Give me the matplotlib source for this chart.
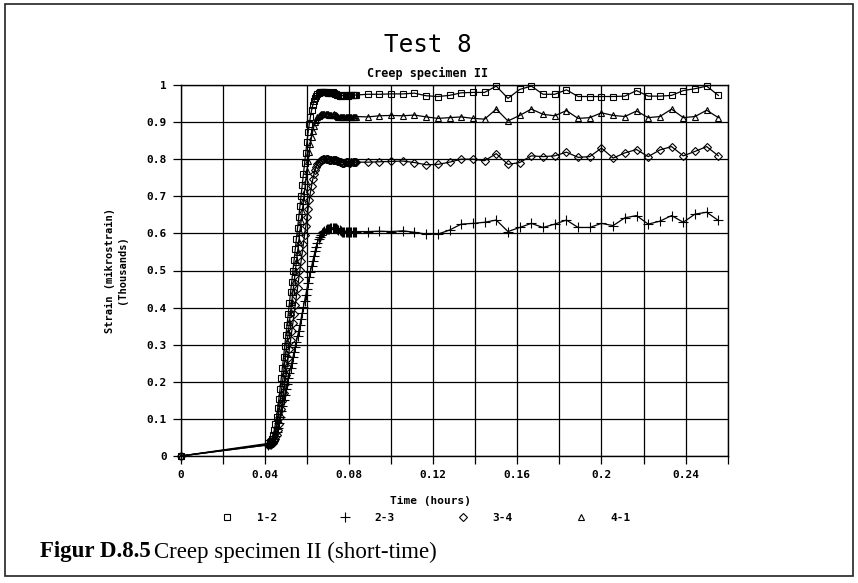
import numpy as np
import matplotlib.pyplot as plt
from matplotlib.lines import Line2D
from matplotlib.patches import Rectangle

plt.rcParams['font.family'] = 'DejaVu Sans Mono'
plt.rcParams['font.weight'] = 'bold'

# sample times in seconds (plotted in hours)
t_start = [0]
t_dense = [150, 152, 154, 156, 158, 160, 162, 164, 166, 168,
           170, 172, 174, 176, 178, 180, 182, 184, 186, 188,
           190, 192, 194, 196, 198, 200, 202, 204, 206, 208,
           210, 212, 214, 216, 218, 220, 222, 224, 226, 228,
           230, 232, 234, 236, 238, 240, 242, 244, 246, 248,
           250, 252, 254, 256, 258, 260, 262, 264, 266, 268,
           270, 272, 274, 276, 278, 280, 282, 284, 286, 288,
           290, 292, 294, 296, 298, 300]
t_sparse = [320, 340, 360, 380, 400, 420, 440, 460, 480, 500,
            520, 540, 560, 580, 600, 620, 640, 660, 680, 700,
            720, 740, 760, 780, 800, 820, 840, 860, 880, 900, 920]

# strain (thousands of mikrostrain)
s12_dense = [0.034, 0.037, 0.041, 0.047, 0.056, 0.069, 0.086, 0.106, 0.129, 0.154,
             0.181, 0.209, 0.238, 0.267, 0.296, 0.325, 0.354, 0.383, 0.412, 0.441,
             0.470, 0.499, 0.528, 0.557, 0.586, 0.615, 0.644, 0.673, 0.702, 0.731,
             0.760, 0.789, 0.818, 0.846, 0.872, 0.895, 0.915, 0.932, 0.946, 0.957,
             0.965, 0.971, 0.975, 0.978, 0.980, 0.981, 0.982, 0.982, 0.982, 0.981,
             0.980, 0.979, 0.978, 0.978, 0.979, 0.980, 0.979, 0.977, 0.975, 0.973,
             0.972, 0.971, 0.971, 0.971, 0.972, 0.972, 0.972, 0.971, 0.971, 0.972,
             0.972, 0.972, 0.972, 0.972, 0.973, 0.973]
s12_sparse = [0.975, 0.975, 0.976, 0.976, 0.978, 0.971, 0.969, 0.972, 0.979, 0.980,
              0.980, 0.997, 0.964, 0.988, 0.997, 0.975, 0.975, 0.987, 0.969, 0.969,
              0.969, 0.969, 0.970, 0.985, 0.970, 0.970, 0.972, 0.985, 0.990, 0.997, 0.972]

s23_dense = [0.030, 0.031, 0.033, 0.036, 0.040, 0.046, 0.054, 0.064, 0.076, 0.090,
             0.105, 0.120, 0.135, 0.150, 0.165, 0.180, 0.195, 0.210, 0.224, 0.238,
             0.252, 0.266, 0.280, 0.294, 0.308, 0.323, 0.338, 0.354, 0.370, 0.386,
             0.402, 0.418, 0.434, 0.450, 0.466, 0.482, 0.497, 0.511, 0.525, 0.539,
             0.552, 0.564, 0.575, 0.584, 0.591, 0.597, 0.601, 0.604, 0.607, 0.609,
             0.611, 0.612, 0.613, 0.614, 0.614, 0.615, 0.615, 0.615, 0.614, 0.612,
             0.610, 0.608, 0.606, 0.605, 0.604, 0.604, 0.605, 0.605, 0.605, 0.604,
             0.604, 0.605, 0.605, 0.605, 0.605, 0.605]
s23_sparse = [0.605, 0.606, 0.605, 0.607, 0.603, 0.598, 0.598, 0.609, 0.625, 0.627,
              0.630, 0.636, 0.605, 0.616, 0.627, 0.616, 0.625, 0.636, 0.616, 0.616,
              0.627, 0.621, 0.642, 0.648, 0.625, 0.633, 0.648, 0.630, 0.652, 0.657, 0.635]

s34_dense = [0.030, 0.031, 0.032, 0.034, 0.036, 0.040, 0.046, 0.056, 0.070, 0.086,
             0.105, 0.126, 0.148, 0.170, 0.194, 0.218, 0.241, 0.265, 0.289, 0.312,
             0.336, 0.359, 0.383, 0.407, 0.430, 0.454, 0.478, 0.501, 0.525, 0.548,
             0.572, 0.596, 0.619, 0.643, 0.667, 0.689, 0.711, 0.729, 0.746, 0.760,
             0.771, 0.780, 0.786, 0.791, 0.795, 0.797, 0.799, 0.800, 0.800, 0.800,
             0.800, 0.800, 0.799, 0.798, 0.797, 0.797, 0.798, 0.799, 0.798, 0.796,
             0.795, 0.793, 0.792, 0.791, 0.791, 0.791, 0.792, 0.792, 0.792, 0.791,
             0.791, 0.792, 0.792, 0.792, 0.792, 0.792]
s34_sparse = [0.792, 0.793, 0.794, 0.795, 0.791, 0.785, 0.786, 0.792, 0.800, 0.800,
              0.796, 0.815, 0.786, 0.791, 0.809, 0.807, 0.809, 0.819, 0.805, 0.807,
              0.830, 0.803, 0.817, 0.826, 0.807, 0.825, 0.834, 0.809, 0.821, 0.834, 0.809]

s41_dense = [0.032, 0.033, 0.035, 0.039, 0.044, 0.053, 0.065, 0.081, 0.100, 0.121,
             0.145, 0.170, 0.196, 0.224, 0.251, 0.278, 0.306, 0.333, 0.360, 0.387,
             0.415, 0.442, 0.469, 0.496, 0.524, 0.551, 0.578, 0.605, 0.633, 0.660,
             0.687, 0.714, 0.742, 0.769, 0.795, 0.820, 0.841, 0.860, 0.876, 0.889,
             0.900, 0.907, 0.913, 0.917, 0.919, 0.921, 0.922, 0.923, 0.923, 0.923,
             0.922, 0.921, 0.920, 0.919, 0.919, 0.920, 0.921, 0.920, 0.918, 0.917,
             0.915, 0.914, 0.913, 0.913, 0.913, 0.914, 0.914, 0.914, 0.913, 0.913,
             0.914, 0.914, 0.914, 0.914, 0.914, 0.915]
s41_sparse = [0.914, 0.917, 0.918, 0.917, 0.919, 0.914, 0.910, 0.912, 0.914, 0.910,
              0.908, 0.935, 0.903, 0.918, 0.935, 0.921, 0.917, 0.931, 0.910, 0.912,
              0.925, 0.918, 0.915, 0.930, 0.912, 0.915, 0.935, 0.912, 0.915, 0.932, 0.912]

labels = ['1-2', '2-3', '3-4', '4-1']
markers = ['s', '+', 'D', '^']
msizes = [4.5, 6.5, 3.6, 5]
x_tick_labels = ['0', '', '0.04', '', '0.08', '', '0.12', '', '0.16', '', '0.2', '', '0.24', '']
y_tick_labels = ['0', '0.1', '0.2', '0.3', '0.4', '0.5', '0.6', '0.7', '0.8', '0.9', '1']

t_all = t_start + t_dense + t_sparse
hours = [s / 3600 for s in t_all]
series = [
    [0] + s12_dense + s12_sparse,
    [0] + s23_dense + s23_sparse,
    [0] + s34_dense + s34_sparse,
    [0] + s41_dense + s41_sparse,
]

fig = plt.figure(figsize=(8.58, 5.83), dpi=100)
ax = fig.add_axes([180.7 / 858, 1 - 456 / 583, 547 / 858, 371 / 583])

for y, m, ms in zip(series, markers, msizes):
    ax.plot(hours, y, color='black', lw=0.9, marker=m, ms=ms,
            mfc='none', mec='black', mew=0.8, clip_on=False, zorder=3)

ax.set_xlim(0, 0.26)
ax.set_ylim(0, 1)
ax.set_xticks(np.arange(0, 0.2601, 0.02))
ax.set_xticklabels(x_tick_labels)
ax.set_yticks(np.arange(0, 1.001, 0.1))
ax.set_yticklabels(y_tick_labels)
ax.grid(True, color='black', lw=0.9)
ax.set_axisbelow(True)
for sp in ax.spines.values():
    sp.set_linewidth(1.0)
ax.tick_params(direction='out', length=6, width=0.9, color='black',
               pad=4, labelsize=8)

fig.text(428 / 858, 1 - 45 / 583, 'Test 8', ha='center', va='center',
         fontsize=17.5, fontweight='normal')
fig.text(428 / 858, 1 - 73 / 583, 'Creep specimen II', ha='center', va='center',
         fontsize=8.5)
fig.text(116 / 858, 1 - 270 / 583, 'Strain (mikrostrain)\n(Thousands)',
         rotation=90, ha='center', va='center', fontsize=7.5, multialignment='center')
fig.text(430 / 858, 1 - 501 / 583, 'Time (hours)', ha='center', va='center', fontsize=8)

handles = [Line2D([], [], ls='none', marker=m, ms=ms, mfc='none', mec='black', mew=0.8)
           for m, ms in zip(markers, msizes)]
fig.legend(handles, labels, ncol=4, loc='center',
           bbox_to_anchor=(426 / 858, 1 - 518 / 583), frameon=False,
           handlelength=1.0, handletextpad=2.2, columnspacing=5.6, fontsize=8)

# caption and page frame
cap = fig.text(40 / 858, 1 - 552 / 583, 'Figur D.8.5', family='Liberation Serif',
               fontweight='bold', fontsize=16.5, va='center')
r = fig.canvas.get_renderer()
bb = cap.get_window_extent(renderer=r)
fig.text(bb.x1 / 858 + 0.004, 1 - 552 / 583, 'Creep specimen II (short-time)',
         family='Liberation Serif', fontweight='normal', fontsize=16.5, va='center')
fig.patches.append(Rectangle((5 / 858, 1 - 576 / 583), 848 / 858, 572 / 583,
                             transform=fig.transFigure, fill=False, lw=1.2, ec='#222222'))

fig.savefig('out.png', dpi=100)
